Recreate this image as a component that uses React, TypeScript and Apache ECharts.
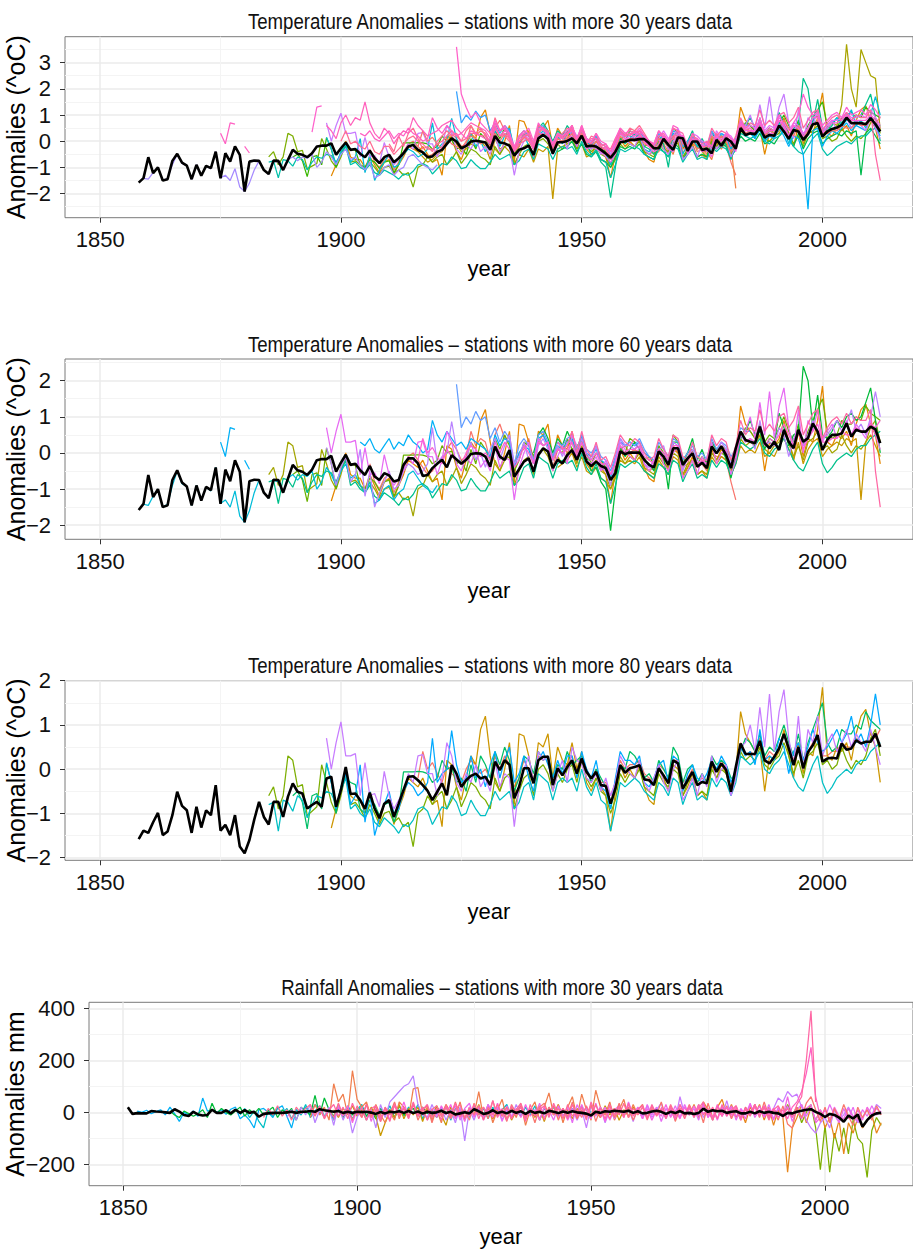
import React, { useEffect, useRef } from "react";
import * as echarts from "echarts";

// ---------------- DATA ----------------
const TITLES = [
  "Temperature Anomalies \u2013 stations with more 30 years data",
  "Temperature Anomalies \u2013 stations with more 60 years data",
  "Temperature Anomalies \u2013 stations with more 80 years data",
  "Rainfall Anomalies \u2013 stations with more 30 years data",
];
const X_TICKS = [1850, 1900, 1950, 2000];
const X_MINOR = [1875, 1925, 1975];
const Y_TICKS_30 = [-2, -1, 0, 1, 2, 3];
const Y_MINOR_30 = [-2.5, -1.5, -0.5, 0.5, 1.5, 2.5, 3.5];
const Y_TICKS_60 = [-2, -1, 0, 1, 2];
const Y_MINOR_60 = [-1.5, -0.5, 0.5, 1.5, 2.5];
const Y_TICKS_80 = [-2, -1, 0, 1, 2];
const Y_MINOR_80 = [-1.5, -0.5, 0.5, 1.5];
const Y_TICKS_RAIN = [-200, 0, 200, 400];
const Y_MINOR_RAIN = [-100, 100, 300];

const MEAN_START = 1858;
const T30_MEAN = [
  -1.58,-1.41,-0.61,-1.22,-1.0,-1.5,-1.45,-0.75,-0.48,-0.82,
  -0.93,-1.45,-0.9,-1.32,-0.94,-1.03,-0.4,-1.41,-0.46,-0.78,
  -0.2,-0.52,-1.92,-0.78,-0.74,-0.75,-1.1,-1.25,-0.74,-0.75,
  -1.1,-0.71,-0.33,-0.48,-0.52,-0.61,-0.46,-0.2,-0.17,-0.17,
  -0.08,-0.52,-0.27,-0.05,-0.33,-0.3,-0.48,-0.61,-0.36,-0.65,
  -0.84,-0.61,-0.52,-0.8,-0.65,-0.46,-0.2,-0.14,-0.33,-0.43,
  -0.61,-0.58,-0.4,-0.33,-0.1,0.11,-0.01,-0.27,-0.18,-0.01,
  0.02,-0.01,-0.05,-0.33,0.2,-0.05,-0.08,-0.17,-0.55,-0.33,
  -0.27,-0.17,-0.52,0.11,0.24,0.09,-0.47,-0.04,-0.04,0.01,
  0.11,-0.08,0.21,-0.2,-0.17,-0.2,-0.33,-0.47,-0.63,-0.4,
  -0.04,-0.01,0.05,0.05,0.08,0.08,-0.08,-0.27,-0.27,0.09,
  -0.14,-0.33,0.14,0.11,-0.37,-0.01,-0.01,-0.33,-0.29,-0.46,
  0.05,-0.17,0.11,-0.01,-0.29,0.5,0.24,0.3,0.27,0.52,
  0.14,0.24,0.21,0.6,0.37,0.09,0.43,0.37,0.05,0.27,
  0.65,0.69,0.18,0.37,0.47,0.52,0.62,0.9,0.69,0.69,
  0.69,0.65,0.88,0.65,0.37,
];
const T60_MEAN = [
  -1.58,-1.41,-0.61,-1.22,-1.0,-1.5,-1.45,-0.75,-0.48,-0.82,
  -0.93,-1.45,-0.9,-1.32,-0.94,-1.03,-0.4,-1.41,-0.46,-0.78,
  -0.2,-0.52,-1.92,-0.78,-0.74,-0.75,-1.1,-1.25,-0.74,-0.75,
  -1.1,-0.71,-0.33,-0.48,-0.52,-0.61,-0.46,-0.2,-0.17,-0.17,
  -0.08,-0.52,-0.27,-0.05,-0.33,-0.3,-0.48,-0.61,-0.36,-0.65,
  -0.75,-0.56,-0.62,-0.79,-0.75,-0.33,-0.15,-0.15,-0.29,-0.64,
  -0.61,-0.42,-0.3,-0.19,-0.4,-0.06,-0.18,-0.3,-0.19,-0.03,
  -0.01,-0.02,-0.1,-0.38,0.18,-0.1,-0.19,0.08,-0.66,-0.45,
  -0.24,-0.15,-0.52,-0.06,0.13,0.04,-0.42,-0.19,-0.29,-0.06,
  0.08,-0.19,0.13,-0.24,-0.36,-0.24,-0.36,-0.42,-0.75,-0.56,
  0.04,-0.03,0.01,0.01,0.01,-0.19,-0.33,-0.4,0.04,-0.1,
  -0.33,0.13,0.13,-0.33,-0.15,-0.01,-0.38,-0.27,-0.42,0.18,
  -0.01,0.18,-0.06,-0.42,0.13,0.59,0.36,0.31,0.27,0.73,
  0.27,0.13,0.31,0.08,0.64,0.31,0.13,0.64,0.31,0.41,
  0.82,0.59,0.08,0.36,0.5,0.5,0.54,0.82,0.45,0.64,
  0.59,0.59,0.73,0.65,0.27,
];
const T80_MEAN = [
  -1.58,-1.39,-1.44,-1.2,-0.99,-1.49,-1.41,-1.04,-0.51,-0.83,
  -0.93,-1.44,-0.85,-1.32,-0.93,-1.04,-0.36,-1.39,-1.26,-1.49,
  -1.04,-1.75,-1.9,-1.6,-1.14,-0.74,-1.08,-1.25,-0.74,-0.74,
  -1.08,-0.62,-0.32,-0.51,-0.55,-0.89,-0.81,-0.74,-0.85,-0.21,
  -0.17,-0.85,-0.47,0.05,-0.56,-0.55,-0.7,-0.9,-0.53,-0.89,
  -1.11,-0.78,-0.7,-1.08,-0.78,-0.47,-0.17,-0.16,-0.25,-0.36,
  -0.49,-0.7,-0.51,-0.32,-0.59,0.09,-0.1,-0.4,-0.25,-0.15,
  -0.1,-0.21,-0.17,-0.36,0.17,-0.02,0.2,0.1,-0.66,-0.4,
  0.02,0.02,-0.32,0.2,0.28,0.28,-0.36,0.02,-0.14,0.05,
  0.2,-0.1,0.24,-0.06,-0.21,-0.06,-0.36,-0.38,-0.78,-0.44,
  0.09,-0.08,0.02,0.05,0.09,-0.23,-0.25,-0.36,0.02,-0.14,
  -0.32,0.2,0.13,-0.44,-0.25,-0.06,-0.36,-0.29,-0.32,0.17,
  -0.06,0.13,-0.02,-0.51,0.05,0.58,0.35,0.34,0.35,0.64,
  0.2,0.13,0.28,0.47,0.8,0.47,0.09,0.5,0.02,0.39,
  0.54,0.77,0.17,0.24,0.26,0.24,0.58,0.44,0.47,0.65,
  0.58,0.62,0.62,0.8,0.5,
];

const RAIN_MEAN_START = 1851;
const RAIN_MEAN = [
  20,-6,-3,-4,-4,5,3,2,0,-2,
  12,3,-10,-14,2,-8,-12,-10,10,-2,
  -2,8,-4,10,-2,8,-2,2,-17,-6,
  -4,-2,-2,-2,0,2,-2,2,2,5,
  2,12,8,5,2,5,-2,2,-2,2,
  1,2,-1,-6,1,-4,2,0,4,-2,
  5,-3,3,-5,2,-2,0,6,-3,2,
  -8,-4,0,-4,12,4,-6,-2,8,-3,
  2,-4,6,-2,4,-6,5,-2,2,-4,
  6,2,-3,3,-2,4,0,-2,-5,-12,
  2,-2,4,2,6,4,2,6,-2,4,
  -4,-2,3,6,2,-6,2,-3,5,-4,
  -2,-6,-2,14,2,8,4,6,-2,2,
  4,-4,-4,2,-4,4,-2,2,-2,-4,
  -14,-2,-4,2,6,10,12,2,-6,-18,
  -6,-10,-20,-36,-12,-24,-8,-55,-30,-12,
  -4,-2,
];

// ---- temperature stations (start year, yearly anomaly) ----
const TA_START = 1885;
const TA = [
  -0.8,-0.75,-1.4,-0.7,-0.75,-0.95,-0.6,-0.7,-1.1,-0.8,
  -0.6,-0.65,-0.5,-0.55,-0.8,-0.5,-0.2,-0.9,-0.8,-1.0,
  -1.1,-0.9,-1.2,-1.3,-1.1,-1.2,-1.3,-1.45,-1.25,-1.3,
  -1.15,-0.9,-0.85,-0.95,-1.25,-1.05,-0.85,-0.9,-0.6,-0.75,
  -1.05,-1.0,-0.7,-0.9,-1.05,-1.05,-0.8,-0.5,-0.7,-0.6,
  -0.5,-0.9,-0.75,-0.4,-0.3,-0.7,-0.1,-0.2,-0.3,-0.7,
  -0.3,-0.2,-0.3,-0.2,-0.5,0.0,-0.4,-0.6,-0.3,-0.7,
  -0.8,-1.4,-0.9,-0.3,-0.4,-0.3,-0.2,-0.3,-0.5,-0.6,
  -0.7,-0.3,-0.4,-0.6,-0.2,-0.3,-0.8,-0.5,-0.3,-0.7,
  -0.6,-0.7,-0.2,-0.4,-0.2,-0.3,-0.6,-0.3,0.3,0.2,
  0.1,0.2,0.4,0.0,-0.1,0.1,0.2,0.4,0.1,-0.2,
  -0.4,-0.5,-0.2,0.1,0.3,-0.3,-0.55,-0.4,-0.2,-0.1,
  0.0,-0.1,0.1,0.2,0.2,0.4,0.5,0.6,
];
const TB_START = 1885;
const TB = [
  -0.6,-0.4,-0.9,-0.6,0.3,0.2,-0.4,-0.35,-1.05,-0.95,
  -0.85,0.1,-0.3,-0.75,-1.0,-0.6,-0.1,-0.8,-0.75,-0.9,
  -1.1,-0.8,-1.0,-1.25,-1.0,-0.95,-1.2,-1.1,-1.3,-1.2,
  -1.75,-1.0,-0.9,-0.6,-0.8,-0.6,-0.5,-0.9,-0.7,-0.4,
  -0.85,-0.6,-0.3,-0.4,-0.6,-0.7,-0.9,-0.2,-0.5,-0.2,
  -0.1,-0.9,-0.5,-0.2,-0.1,-0.6,0.0,0.1,-0.1,-0.5,
  -0.1,-0.3,0.0,0.1,-0.3,0.2,-0.2,-0.4,-0.2,-0.5,
  -0.6,-1.0,-0.7,-0.1,-0.3,-0.1,-0.2,0.0,-0.4,-0.5,
  -0.6,-0.1,-0.3,-0.4,0.0,-0.1,-0.6,-0.3,-0.2,-0.6,
  -0.5,-0.6,0.0,-0.2,0.0,-0.1,-0.5,-0.2,0.4,0.2,
  0.3,0.2,0.5,0.1,0.0,0.2,0.3,0.6,0.3,-0.1,
  0.2,-0.2,0.3,0.4,0.6,0.1,0.2,0.0,0.1,0.5,
  0.2,0.0,0.2,0.1,0.3,0.7,0.9,0.3,
];
const TC_START = 1890;
const TC = [
  -0.6,-0.5,-0.75,-1.35,-0.6,-0.55,-0.9,0.13,-0.3,-1.0,
  -0.4,-0.2,-0.3,-0.35,-0.9,-1.0,-0.7,-0.8,-1.05,-0.8,
  -0.75,-1.2,-0.9,-0.06,-0.06,-0.06,-0.05,-0.06,-0.1,-0.3,
  -0.2,0.2,0.0,0.05,-0.3,-0.2,-0.5,0.1,-0.3,0.3,
  0.1,-0.2,0.4,0.1,0.5,0.2,-0.5,-0.2,0.3,0.2,
  -0.1,0.4,0.2,0.3,-0.2,0.1,0.0,0.4,0.1,0.2,
  0.3,0.0,-0.3,0.0,-0.2,-0.4,-0.9,-0.4,0.1,0.0,
  0.4,0.3,0.1,-0.2,-0.1,-0.3,0.2,0.0,-0.2,0.5,
  0.3,-0.3,0.0,0.1,-0.3,-0.1,-0.3,0.3,0.1,0.2,
  0.1,-0.2,-0.2,0.4,0.7,0.6,0.4,0.8,0.3,0.5,
  0.4,0.7,1.0,0.6,0.3,0.8,0.2,0.6,0.9,1.2,
  1.5,0.6,0.4,0.5,0.9,0.8,0.8,1.0,0.9,1.3,
  1.1,1.0,0.9,
];
const TD_START = 1897;
const TD = [
  0.7,0.0,0.6,1.07,0.3,0.3,0.35,-0.6,0.15,-0.6,
  -0.55,-0.85,-0.05,-0.6,-0.9,-0.7,-0.5,-0.1,-0.3,0.3,
  0.33,-0.1,-0.1,-0.6,-0.2,0.6,0.3,-0.3,-0.5,-0.1,
  -0.3,0.1,-0.4,-0.2,-0.5,0.2,-0.4,-0.1,-0.2,-1.3,
  -0.4,0.0,0.3,-0.3,0.4,0.2,0.3,-0.5,-0.1,0.2,
  -0.3,0.5,0.2,0.1,-0.2,-0.3,-0.1,-0.5,-0.2,-0.6,
  -0.3,0.3,0.1,-0.1,-0.2,0.2,-0.3,-0.5,-0.2,0.1,
  -0.3,-0.5,0.0,0.2,-0.7,-0.5,-0.2,-0.6,-0.1,-0.4,
  0.3,-0.3,0.0,0.1,-0.6,-0.2,0.5,0.6,1.0,0.4,
  1.4,0.5,1.7,0.4,1.3,1.8,0.7,0.1,1.2,0.0,
  0.9,0.6,1.2,0.3,0.6,0.8,0.4,0.6,0.9,0.5,
  0.8,0.6,0.4,0.9,0.5,0.1,
];
const TE_START = 1897;
const TE = [
  0.15,-0.3,-0.9,-0.4,-0.1,-0.8,-0.6,0.1,-1.2,-0.5,
  -1.5,-1.1,-0.8,-0.5,-1.0,-0.9,-0.5,-0.3,-0.4,-0.6,
  -0.5,-0.3,0.7,-0.3,-0.1,0.0,0.87,0.1,-0.3,-0.2,
  0.3,-0.2,0.0,-0.4,0.1,0.4,-0.2,0.2,0.5,-0.3,
  -0.1,0.3,-0.2,-0.5,0.2,0.4,0.1,-0.2,0.2,-0.1,
  0.3,0.3,-0.2,0.4,0.0,-0.2,0.2,-0.4,-0.5,-0.9,
  -0.2,0.4,0.2,0.2,0.1,0.3,-0.3,-0.4,-0.2,0.1,
  0.2,-0.3,0.3,0.2,-0.5,-0.1,0.1,-0.2,-0.3,-0.1,
  0.2,0.0,0.3,0.1,-0.3,0.0,0.5,0.3,0.4,0.1,
  0.9,0.2,0.3,0.2,0.7,0.5,-0.1,0.4,0.6,0.2,
  0.5,0.9,0.6,0.4,0.5,0.7,0.9,0.6,0.8,1.2,
  0.6,0.8,0.5,1.0,1.7,1.0,
];
const TF_START = 1898;
const TF = [
  -1.33,-0.9,-0.5,0.0,-0.6,-0.7,-0.7,-1.0,-0.6,-0.9,
  -1.2,-0.8,-0.7,-1.25,-0.9,-0.6,-0.2,-0.3,-0.4,-0.2,
  -0.5,-0.8,-0.7,-1.3,0.2,0.1,-0.4,-0.7,-0.2,0.3,
  0.1,0.9,1.2,0.3,-0.3,-0.5,0.0,0.6,-0.8,0.8,
  0.75,0.3,-0.3,0.6,0.5,0.8,-0.2,0.5,0.2,0.1,
  0.6,0.0,0.4,-0.3,-0.5,-0.2,-0.4,-0.6,-1.4,-0.5,
  0.1,-0.2,0.0,-0.2,0.1,-0.4,-0.7,-0.8,0.0,-0.2,
  -0.5,0.1,0.0,-0.6,-0.4,-0.1,-0.6,-0.5,-0.7,0.1,
  -0.2,0.1,-0.1,-0.4,-0.1,1.3,0.8,0.6,0.4,0.5,
  -0.5,0.3,0.2,0.4,0.9,0.3,-0.2,0.6,-0.1,0.4,
  0.3,0.9,1.85,0.3,0.2,0.5,0.4,0.6,0.2,0.8,
  1.2,1.35,0.8,0.5,-0.3,
];
const TG_START = 1916;
const TG = [
  -0.2,0.4,0.0,0.15,-0.1,-0.3,0.1,-0.1,-0.2,-0.3,
  0.0,0.2,0.1,-0.1,0.0,-0.2,0.3,0.0,0.3,0.1,
  -0.4,-0.2,0.2,0.0,-0.3,0.3,0.2,0.3,-0.2,0.1,
  0.0,0.1,0.3,-0.1,0.3,-0.1,-0.2,0.0,-0.3,-0.3,
  -0.6,-0.3,0.2,0.0,0.1,0.1,0.2,-0.1,-0.2,-0.3,
  0.1,0.0,-0.2,0.2,0.2,-0.3,-0.2,0.0,-0.3,-0.2,
  -0.3,0.2,0.0,0.2,0.0,-0.4,-0.1,0.6,0.3,0.4,
  0.3,0.7,0.2,0.4,0.3,0.5,0.8,0.5,0.2,0.6,
  0.1,0.4,0.6,0.8,0.3,0.3,0.4,0.4,0.6,0.5,
  0.5,0.7,0.6,0.6,0.8,0.7,0.9,
];
const TH_START = 1924;
const TH = [
  1.9,0.7,1.0,0.8,1.15,0.9,1.0,0.4,0.7,0.3,
  0.6,0.4,-0.3,0.2,0.4,0.2,-0.2,0.5,0.6,0.3,
  -0.1,0.3,0.2,0.4,0.5,0.1,0.5,0.1,0.0,0.2,
  -0.1,-0.2,-0.5,-0.1,0.4,0.2,0.3,0.2,0.4,0.1,
  -0.1,-0.2,0.3,0.1,-0.1,0.4,0.3,-0.2,0.0,0.2,
  -0.1,0.0,-0.2,0.4,0.1,0.3,0.2,-0.1,0.1,0.7,0.6,0.6,
];
const TI_START = 1859;
const TI = [
  -1.42,-1.45,-1.2,-1.0,-1.5,-1.42,-0.9,-0.5,-0.85,-0.93,
  -1.45,-0.9,-1.3,-0.95,-1.05,-0.4,-1.4,-1.3,-1.5,-1.05,
  -1.75,-1.92,-1.6,-1.1,-0.75,-1.1,-1.25,-0.75,-0.8,-1.1,
  -0.7,-0.6,-0.75,-0.6,-0.65,-0.5,-1.0,-0.8,-0.4,-0.6,
  -0.9,-0.5,-0.3,-0.7,-0.6,-0.9,-1.1,-0.8,-1.4,-1.3,
  -1.0,-0.9,-1.3,-1.1,-1.0,-0.6,-0.5,-0.7,-0.9,-1.0,-1.1,-0.9,
];
const TJ_EARLY_START = 1875;
const TJ_EARLY = [0.3, -0.1, 0.7, 0.65, null, -0.2, -0.45];
const TJ_START = 1904;
const TJ = [
  0.3,0.2,0.4,0.1,0.0,0.2,0.4,0.1,0.3,0.2,
  0.5,0.3,0.2,0.0,0.1,0.9,0.5,0.3,0.6,0.4,
  0.2,0.3,0.1,0.4,0.3,0.2,0.1,-0.1,0.5,0.2,
  0.4,0.3,-0.4,0.0,0.2,0.1,-0.3,0.4,0.5,0.2,
  -0.2,0.2,0.1,0.3,0.4,0.0,0.5,0.0,-0.1,0.1,
  -0.2,-0.3,-0.7,-0.2,0.3,0.2,0.3,0.2,0.3,0.0,-0.1,-0.2,
];
const TK_START = 1906;
const TK = [
  -0.3,-0.8,-1.0,-0.7,-0.6,-1.1,-0.8,-0.4,-0.1,0.0,
  -0.2,-0.4,-0.6,-0.5,-0.3,-0.2,0.1,0.3,0.1,-0.2,
  -0.1,0.6,0.2,0.4,0.3,-0.2,0.5,0.8,0.4,0.3,
  -0.3,0.0,0.1,0.4,-0.2,0.3,0.5,0.2,-0.4,0.1,
  0.2,0.0,0.3,-0.1,0.4,-0.2,-0.1,0.2,-0.2,-0.5,
  -0.6,-0.2,0.1,0.2,0.0,0.1,0.0,-0.3,-0.5,-0.4,
  0.0,-0.1,-0.4,0.2,0.0,-0.4,-0.3,0.1,-0.4,-0.3,
  -0.5,0.0,-0.1,-0.1,-0.2,-0.8,-1.3,
];
const TL_START = 1945;
const TL = [
  -0.4,-0.3,-0.2,0.0,-0.4,-0.1,-0.5,-0.6,-0.4,-0.7,
  -0.8,-1.0,-0.6,-0.2,-0.3,-0.2,-0.3,-0.1,-0.5,-0.6,
  -0.7,-0.2,-0.4,-0.6,-0.1,-0.2,-0.7,-0.4,-0.2,-0.6,
  -0.5,-0.6,-0.1,-0.3,-0.1,-0.2,-0.6,-0.3,0.2,0.0,
  0.1,0.0,0.3,-0.1,0.0,-0.1,0.2,0.4,0.1,-0.2,
  0.3,-0.3,0.1,0.3,0.4,-0.1,0.1,0.2,0.3,0.2,
  0.4,0.3,0.4,-1.3,0.3,0.5,0.2,-0.1,
];
const TM_START = 1945;
const TM = [
  0.3,0.1,0.2,0.6,0.0,0.6,0.1,-0.1,0.3,-0.2,
  -0.1,-0.4,0.0,0.5,0.3,0.2,0.4,0.3,0.0,-0.2,
  -0.1,0.4,0.1,-0.1,0.5,0.4,-0.1,-0.2,0.3,-0.1,
  -0.2,-0.2,0.5,0.2,0.4,0.3,-0.2,0.2,0.9,0.5,
  0.7,0.6,1.2,0.6,0.8,0.6,1.0,1.1,0.7,0.9,
  1.3,0.5,0.8,1.1,1.2,0.4,0.7,0.9,1.0,0.8,
  1.1,0.8,1.0,0.9,0.9,1.2,-0.5,-1.5,
];
const TN_START = 1940;
const TN = [
  0.0,0.5,0.7,0.4,0.0,0.4,0.2,0.6,0.3,0.1,
  0.5,-0.1,-0.5,-0.4,-0.8,-1.0,-2.15,-1.0,0.2,-0.1,
  0.1,0.3,0.1,-0.2,-0.3,-0.5,0.1,-0.1,-1.0,0.3,
  0.3,-0.2,0.0,0.4,-0.2,0.1,-0.3,0.3,0.1,0.2,
  -0.2,-0.7,-0.1,0.4,0.6,0.9,0.5,0.6,0.1,0.4,
  0.3,1.1,0.7,0.2,0.5,0.6,2.4,2.0,0.7,1.6,
  0.5,0.4,0.6,0.9,0.7,1.0,1.1,0.9,1.0,1.4,
  1.8,0.9,0.0,
];
const TO_START = 1924;
const TO = [
  3.6,1.8,1.3,0.9,1.1,0.7,0.5,0.3,0.8,0.4,
  0.6,0.3,-0.2,0.2,0.3,0.5,0.0,0.7,0.4,0.3,
  -0.1,0.3,0.2,0.4,0.6,0.1,0.6,0.1,0.0,0.3,
  0.0,-0.1,-0.4,0.1,0.5,0.3,0.4,0.3,0.5,0.2,
  0.0,-0.1,0.4,0.2,0.0,0.6,0.5,
];
const TP_START = 1975;
const TP = [
  -0.4,-0.6,0.2,-0.2,0.1,0.2,-0.3,-0.1,0.8,0.4,
  0.5,0.3,0.6,0.2,0.5,0.3,0.7,0.5,0.1,0.4,
  0.5,0.0,0.3,0.8,1.0,0.2,0.5,0.7,0.6,1.4,
  3.7,2.0,1.3,3.5,3.0,2.5,2.4,0.4,
];
const TQ_START = 1980;
const TQ = [
  0.1,-0.3,-0.2,0.6,0.2,0.3,0.1,0.5,0.0,0.2,
  0.1,0.5,0.2,-0.2,0.2,0.1,-0.5,-2.6,0.4,0.5,
  -0.2,0.2,0.4,0.3,0.5,0.7,0.4,0.6,0.5,0.4,
  1.0,0.5,0.2,
];
const TR_START = 1915;
const TR = [
  -0.2,-0.4,-0.6,-0.8,-0.7,-0.5,-0.4,0.0,0.2,-0.1,
  -0.4,-0.3,-0.1,-0.2,0.0,-0.2,-0.7,0.1,-0.3,-0.2,
  -0.4,-0.9,-0.5,-0.6,-0.3,-0.8,-0.3,-0.4,-0.2,-2.2,
  -0.3,-0.2,-0.1,0.0,-0.3,-0.1,-0.6,-0.5,-0.4,-0.7,-0.8,
];
const TS2_START = 1894;
const TS2 = [0.35, 1.3, 1.35];
const TS_START = 1897;
const TS = [
  0.6,0.4,0.1,0.7,1.0,0.6,0.9,0.8,1.5,0.7,
  0.3,0.1,0.5,0.3,-0.1,0.2,0.4,0.3,0.9,0.6,
  0.4,0.2,0.3,0.4,0.6,0.7,0.8,0.5,0.3,0.5,
  0.7,0.6,0.5,0.4,0.1,0.7,0.4,0.5,0.2,-0.3,
  0.2,0.4,0.3,-0.1,
];
const TT_START = 1910;
const TT = [
  -0.1,-0.4,0.2,-0.2,0.3,0.5,0.1,-0.3,-0.2,-0.4,
  0.0,0.2,0.4,0.2,0.3,0.0,0.4,0.6,0.3,0.5,
  0.2,0.0,0.9,0.4,0.5,0.1,-0.2,0.1,0.3,0.2,
  -0.1,0.6,0.5,0.4,-0.4,0.2,0.3,0.5,0.4,-0.1,
  0.5,-0.1,0.2,0.1,-0.3,-0.2,-0.3,0.1,0.4,0.2,
  0.5,0.4,0.6,0.3,0.0,-0.2,
];
const TU_START = 1955;
const TU = [
  -0.3,-0.5,-0.1,0.3,0.2,0.1,0.2,0.4,0.2,0.0,
  -0.1,0.1,0.4,0.1,0.2,0.5,0.0,-0.2,0.3,0.2,
  0.0,-0.1,-0.2,0.4,0.1,0.3,0.2,-0.1,0.8,0.5,
  0.6,0.5,0.8,0.4,0.6,0.5,0.9,0.7,0.4,0.7,
  0.6,0.3,0.5,0.9,1.0,0.5,0.6,0.8,0.8,0.9,
  1.1,0.9,0.9,1.0,0.9,1.2,0.9,0.6,
];
const TV_START = 1940;
const TV = [
  -0.6,0.2,0.3,0.0,-0.5,-0.1,0.0,0.1,0.2,-0.2,
  0.3,-0.3,-0.2,-0.3,-0.4,-0.6,-0.8,-0.5,0.0,0.1,
  0.1,0.0,0.2,0.1,-0.2,-0.4,-0.3,0.2,-0.3,-0.4,
  0.2,0.2,-0.5,0.0,0.1,-0.4,-0.3,-0.6,0.1,-0.2,
  0.2,0.0,-0.4,0.6,0.3,0.4,0.4,0.7,0.2,0.3,
  0.3,0.8,0.5,0.1,0.6,0.5,
];
const TW_START = 1980;
const TW = [
  0.4,0.1,0.0,0.7,0.5,0.5,0.3,0.9,0.3,0.5,
  0.4,1.0,0.6,0.2,0.7,1.0,1.8,1.3,1.0,1.1,
  0.6,0.8,1.0,1.1,0.9,1.3,1.0,1.1,1.2,1.0,
  1.4,1.2,0.9,
];
const TX_START = 1950;
const TX = [
  0.5,0.0,-0.1,0.2,-0.3,-0.4,-0.7,-0.2,0.3,0.1,
  0.1,0.0,0.3,0.0,-0.2,-0.5,-0.4,0.1,-0.2,-0.5,
  0.2,0.0,-0.5,-0.1,-0.2,-0.4,-0.4,-0.7,0.0,-0.3,
  0.0,-0.2,-1.8,
];
const TY_START = 1930;
const TY = [
  0.3,-0.1,0.6,0.2,0.3,0.1,-0.3,0.0,0.2,0.3,
  -0.2,0.5,0.5,0.3,-0.1,0.3,0.2,0.3,0.5,0.0,
  0.4,0.0,0.1,0.1,-0.1,-0.2,-0.4,0.0,0.4,0.2,
  0.3,0.3,0.4,0.2,0.0,-0.1,0.2,0.3,0.0,0.1,
  0.4,0.3,-0.2,0.2,0.1,-0.1,0.0,-0.2,0.3,0.0,
  0.3,0.1,-0.1,0.7,0.4,0.5,
];
const TZ_START = 1960;
const TZ = [
  0.0,0.1,0.2,0.0,-0.2,-0.3,-0.1,0.2,-0.1,-0.2,
  0.3,0.2,-0.3,0.1,0.0,-0.2,-0.1,-0.3,0.2,0.0,
  0.3,0.1,-0.1,0.7,0.4,0.4,0.3,0.7,0.3,0.4,
  0.4,0.8,0.6,0.2,0.6,0.5,0.2,0.5,0.9,0.9,
  0.3,0.5,0.7,0.7,0.8,1.0,0.8,0.8,0.8,0.8,
  1.0,0.8,0.5,
];
const TZ2_START = 1900;
const TZ2 = [
  0.0,0.4,-0.1,0.0,-0.2,-0.3,0.0,-0.4,-0.5,-0.2,
  -0.2,-0.5,-0.3,-0.1,0.1,0.2,0.0,-0.1,-0.3,-0.3,
  -0.1,0.0,0.2,0.4,0.2,0.0,0.1,0.3,0.3,0.2,
  0.2,-0.1,0.5,0.2,0.2,0.0,-0.4,-0.1,0.0,0.1,
  -0.3,0.4,0.5,0.3,-0.3,0.2,0.2,0.3,0.4,0.1,
  0.5,
];

// ---- rainfall stations (mm) ----
const RA_START = 1853;
const RA = [
  5,0,8,-5,3,10,-10,20,-5,-35,
  0,-10,5,-15,55,5,10,0,10,-8,
  12,20,-25,-10,-30,-60,10,15,0,-20,
  15,25,-15,-60,10,-10,20,-5,30,10,
  -15,5,-20,15,-10,25,-5,10,
];
const RB_START = 1860;
const RB = [
  5,-10,-20,5,-5,-15,-5,10,-20,35,
  -5,15,0,-10,5,20,-15,10,-5,15,
  -10,5,20,-20,10,-5,15,-30,20,5,
  -10,65,-10,55,10,-15,30,-20,15,-10,
  5,20,-15,10,-25,15,-5,10,-20,25,
  -10,5,15,-15,20,-5,10,-20,15,0,-10,
];
const RC_START = 1890;
const RC = [
  -20,30,-10,20,-30,110,40,70,-10,160,
  50,20,40,-20,30,-10,-40,0,-30,40,
  20,-20,90,95,-10,20,-30,10,-40,30,
  0,-20,40,-30,20,-10,80,-20,30,-40,
  10,50,-30,20,-20,30,-50,10,40,-30,
  20,75,-10,30,-40,20,60,-20,70,10,
  -30,85,20,-10,40,-30,10,50,-20,30,-10,
];
const RD_START = 1885;
const RD = [
  -20,10,-30,20,-10,30,-40,10,-20,20,
  -50,30,-30,10,-80,-20,20,-30,10,-60,
  30,-20,40,60,80,100,110,140,30,-10,
  -20,30,-10,20,-30,10,-40,20,-110,10,
  -30,20,-20,30,-10,20,-30,10,-20,30,-10,
];
const RE_START = 1890;
const RE = [
  15,-10,25,-20,10,30,-15,20,-25,35,
  -10,20,-30,15,25,-20,10,-35,30,-10,
  20,-25,40,-15,10,30,-20,15,-30,25,
  -10,35,-20,10,-15,30,-25,20,-10,45,
  -20,15,-30,25,-10,20,-35,30,-15,10,
  25,-20,35,-10,15,-25,30,-15,20,-30,
  40,-10,15,-25,30,-10,20,-20,35,-15,
  10,25,-20,30,-10,15,-25,20,-15,30,
  -10,25,-20,15,40,-10,20,-25,30,-15,
  10,25,-20,15,-10,30,-15,20,-25,10,
  25,-10,15,-20,30,60,200,390,40,
];
const RF_START = 1990;
const RF = [
  10,-20,30,-10,20,-40,0,30,-60,-220,
  -50,-230,-80,-150,-60,-160,-30,-100,-120,-250,
  -70,-20,-50,
];
const RG_START = 1970;
const RG = [
  20,-10,30,-20,40,10,-30,20,50,-10,
  30,-20,10,-40,20,-10,30,-30,20,-50,
  10,-20,-230,-60,-20,30,-40,20,-30,10,
  -60,-20,-100,-30,-160,-40,-80,-20,-60,-30,
  -10,-80,-40,
];
const RH_START = 1900;
const RH = [
  10,-20,30,-10,25,-35,15,-5,40,-25,
  20,-15,35,-30,10,25,-40,15,-10,30,
  -20,40,-15,5,-30,35,-10,20,-25,45,
  -15,10,-35,30,-5,25,-20,15,-40,20,
  35,-10,25,-30,15,-15,40,-25,10,-20,
  30,-35,15,-10,25,-20,35,-15,20,-30,
  10,30,-25,15,-10,40,-20,25,-35,15,
  -15,30,-10,20,-40,35,-20,10,-15,25,
  -25,15,-30,20,-10,30,-20,40,-15,10,
  -30,25,-45,-60,20,-20,35,60,10,-35,
  20,-40,15,-25,30,-15,-50,20,-20,10,
  -30,25,-10,
];
const RI_START = 1920;
const RI = [
  -10,25,-30,15,35,-20,10,-25,30,-5,
  20,-35,25,-15,10,30,-25,15,-10,35,
  -20,10,-30,25,-15,20,-40,30,-10,15,
  -25,35,-15,20,-30,10,25,-20,40,-10,
  15,-25,30,-10,20,-35,15,-15,25,-20,
  30,-10,15,-30,35,-20,10,-25,20,-15,
  25,-30,15,-10,35,-20,10,-15,30,-25,
  15,-20,25,-35,10,30,-15,20,-30,10,
  -20,30,-10,-40,15,-25,20,-35,10,-15,
  25,-10,5,
];
const RJ_START = 1945;
const RJ = [
  -20,15,-30,10,-60,25,-15,20,-40,10,
  -25,30,-10,15,-35,20,-15,25,-20,10,
  35,-25,15,-30,60,-10,20,-15,30,-20,
  10,-30,25,-15,45,-20,10,-25,20,-10,
  30,-15,25,-20,15,55,40,80,60,70,
  20,-30,-60,-80,-40,-20,-60,10,-30,-10,
  20,-15,-40,-20,10,-10,30,15,
];
const RK_START = 1875;
const RK = [
  -10,15,-20,5,-35,-60,10,-15,20,-5,
  15,-25,10,-10,30,-20,5,25,-15,10,
  -30,20,-10,15,-25,10,30,-15,5,-20,
  15,-10,25,-20,10,-15,20,-5,30,-25,
  10,-15,20,-10,25,-30,15,-5,10,-20,
  25,-10,15,-25,20,-15,10,30,-20,5,
  -15,20,-10,25,-30,15,-5,20,-15,10,
  -20,15,-10,25,-15,5,
];
const RL_START = 1895;
const RL = [
  10,-20,15,-10,25,-15,10,-30,20,-15,
  -90,-40,10,-20,30,-25,15,-10,20,-35,
  15,-20,25,-10,-50,20,-15,10,-25,15,
  -10,30,-20,15,-25,10,-15,20,-30,5,
  25,-15,10,-20,15,-35,20,-10,30,-15,
  10,-25,15,-10,20,-15,5,-20,25,-10,
  15,-30,10,-15,20,-5,
];
const RM_START = 1965;
const RM = [
  20,-15,10,-25,30,-10,15,-20,25,-5,
  10,-20,30,-15,20,-10,25,-30,15,-10,
  20,-15,25,-10,15,-20,10,-25,20,40,
  80,150,250,60,-20,10,
];
const RN_START = 1880;
const RN = [
  -20,15,-10,25,-15,10,-30,20,-5,15,
  30,-15,20,-25,10,-20,35,-10,15,-30,
  25,-15,30,-20,10,-35,20,-10,25,-15,
  15,-20,30,-10,20,-30,10,25,-15,20,
  -25,10,30,-20,15,-10,25,-30,20,-10,
  30,-15,20,-25,10,35,-20,15,-10,25,
  -30,20,-10,15,-25,30,-15,10,-20,25,
  -15,30,-20,10,-25,15,-10,35,-20,15,
  -10,20,-30,25,-15,10,-20,30,-10,15,
  -25,20,-15,30,-10,15,-30,25,-10,20,
  -20,15,-25,10,-15,30,-10,20,-30,15,-10,
];
const RO_START = 1895;
const RO = [
  -30,20,-15,25,-40,10,-20,30,-35,15,
  -25,20,-30,35,-10,40,-20,30,-15,20,
  -30,15,-20,25,-10,30,-25,10,-35,20,
  -15,25,-30,10,-20,35,-10,20,-25,15,
  -20,30,-15,10,-30,20,-10,25,-20,15,
  -30,10,-20,30,-15,25,-10,20,-35,15,
  -20,25,-15,30,-10,20,-25,15,-30,10,
  -15,30,-20,10,-25,20,-10,25,-15,30,
  -20,15,-30,25,-10,20,-15,10,-25,30,
  -10,25,-20,15,-30,20,-15,60,-20,10,
  -25,15,30,-40,-20,10,-30,20,-15,-25,
  15,-20,10,-30,20,-10,15,-5,
];

// ---------------- STYLE ----------------
const FONT = "'Liberation Sans',Arial,Helvetica,sans-serif";
const X_MIN = 1842.7;
const X_MAX = 2018.8;

type Seg = [number, (number | null)[]];

function toPoints(segs: Seg[]) {
  const out: any[] = [];
  segs.forEach(([start, vals], k) => {
    if (k > 0) out.push([start - 0.5, "-"]);
    vals.forEach((v, i) => out.push([start + i, v == null ? "-" : v]));
  });
  return out;
}

const S: Record<string, Seg[]> = {
  A: [[TA_START, TA]], B: [[TB_START, TB]], C: [[TC_START, TC]], D: [[TD_START, TD]],
  E: [[TE_START, TE]], F: [[TF_START, TF]], G: [[TG_START, TG]], H: [[TH_START, TH]],
  I: [[TI_START, TI]], J: [[TJ_EARLY_START, TJ_EARLY], [TJ_START, TJ]], K: [[TK_START, TK]],
  L: [[TL_START, TL]], M: [[TM_START, TM]], N: [[TN_START, TN]], O: [[TO_START, TO]],
  P: [[TP_START, TP]], Q: [[TQ_START, TQ]], R: [[TR_START, TR]], S2: [[TS2_START, TS2]],
  S: [[TS_START, TS]], T: [[TT_START, TT]], U: [[TU_START, TU]], V: [[TV_START, TV]],
  W: [[TW_START, TW]], X: [[TX_START, TX]], Y: [[TY_START, TY]], Z: [[TZ_START, TZ]],
  Z2: [[TZ2_START, TZ2]],
};
const RS: Record<string, Seg[]> = {
  A: [[RA_START, RA]], B: [[RB_START, RB]], C: [[RC_START, RC]], D: [[RD_START, RD]],
  E: [[RE_START, RE]], F: [[RF_START, RF]], G: [[RG_START, RG]], H: [[RH_START, RH]],
  I: [[RI_START, RI]], J: [[RJ_START, RJ]], K: [[RK_START, RK]], L: [[RL_START, RL]],
  M: [[RM_START, RM]], N: [[RN_START, RN]], O: [[RO_START, RO]],
};

// draw order + colour per panel
const P1_LINES: [string, string][] = [
  ["K", "#F8766D"], ["X", "#EE8044"], ["F", "#E38900"], ["R", "#C49A00"], ["P", "#A9A400"],
  ["B", "#7CAE00"], ["C", "#39B600"], ["L", "#00BB4E"], ["N", "#00C08B"], ["A", "#00C1AA"],
  ["E", "#00BCD8"], ["Q", "#00B0F6"], ["H", "#35A2FF"], ["I", "#A58AFF"], ["D", "#C77CFF"],
  ["U", "#E76BF3"], ["V", "#F564E3"], ["G", "#F8766D"], ["Z2", "#FF6C91"], ["T", "#FF6C91"],
  ["J", "#FF61C3"], ["S2", "#FF61CC"], ["S", "#FF62BC"], ["Y", "#FF65AE"], ["M", "#FF67A4"],
  ["Z", "#FB61D7"], ["O", "#FF61C9"], ["W", "#FD61D1"],
];
const P2_LINES: [string, string][] = [
  ["K", "#F8766D"], ["F", "#E58700"], ["L", "#C99800"], ["B", "#A3A500"], ["C", "#6BB100"],
  ["N", "#00BA38"], ["A", "#00C08B"], ["I", "#00BCD8"], ["J", "#00B0F6"], ["H", "#619CFF"],
  ["E", "#B983FF"], ["D", "#E76BF3"], ["G", "#FD61D1"], ["M", "#FF67A4"],
];
const P3_LINES: [string, string][] = [
  ["G", "#F8766D"], ["F", "#CD9600"], ["B", "#7CAE00"], ["C", "#00BE67"],
  ["A", "#00BFC4"], ["E", "#00A9FF"], ["D", "#C77CFF"],
];
const P4_LINES: [string, string][] = [
  ["A", "#00B0F6"], ["K", "#00BFC4"], ["B", "#00BA38"], ["L", "#C99800"], ["F", "#7CAE00"],
  ["G", "#E7861B"], ["C", "#F07E4D"], ["D", "#B983FF"], ["J", "#C77CFF"], ["I", "#E76BF3"],
  ["O", "#F564E3"], ["H", "#F8766D"], ["N", "#FF6C91"], ["M", "#FF61C3"], ["E", "#FF67A4"],
];

const PANELS = [
  { left: 65, top: 36.7, height: 181, yMin: -2.92, yMax: 3.99, ticks: Y_TICKS_30, minor: Y_MINOR_30,
    yName: "Anomalies (^oC)", nameGap: 37, titleX: 490, titleY: 21,
    lines: P1_LINES, src: S, meanStart: MEAN_START, mean: T30_MEAN },
  { left: 65, top: 359, height: 180.3, yMin: -2.39, yMax: 2.6, ticks: Y_TICKS_60, minor: Y_MINOR_60,
    yName: "Anomalies (^oC)", nameGap: 37, titleX: 490, titleY: 344,
    lines: P2_LINES, src: S, meanStart: MEAN_START, mean: T60_MEAN },
  { left: 65, top: 680.7, height: 179.6, yMin: -2.06, yMax: 2.0, ticks: Y_TICKS_80, minor: Y_MINOR_80,
    yName: "Anomalies (^oC)", nameGap: 37, titleX: 490, titleY: 665,
    lines: P3_LINES, src: S, meanStart: MEAN_START, mean: T80_MEAN },
  { left: 89, top: 1002.3, height: 183.4, yMin: -282, yMax: 423, ticks: Y_TICKS_RAIN, minor: Y_MINOR_RAIN,
    yName: "Anomalies mm", nameGap: 62, titleX: 502, titleY: 987,
    lines: P4_LINES, src: RS, meanStart: RAIN_MEAN_START, mean: RAIN_MEAN },
];

const fmt = (v: number) => (v < 0 ? "\u2212" + Math.abs(v) : String(v));

function buildOption() {
  const grid: any[] = [];
  const xAxis: any[] = [];
  const yAxis: any[] = [];
  const series: any[] = [];
  const graphic: any[] = [];

  PANELS.forEach((p, i) => {
    grid.push({
      left: p.left, top: p.top, height: p.height, right: 0,
      containLabel: false, outerBoundsMode: "none",
      show: true, borderColor: "#7a7a7a", borderWidth: 1, backgroundColor: "#ffffff",
    });
    xAxis.push({
      type: "value", gridIndex: i, min: X_MIN, max: X_MAX, position: "bottom",
      axisLine: { show: false, onZero: false }, axisLabel: { show: false },
      axisTick: { show: false, customValues: X_MINOR },
      splitLine: { show: true, lineStyle: { color: "#f4f4f4", width: 1 } },
    });
    xAxis.push({
      type: "value", gridIndex: i, min: X_MIN, max: X_MAX, position: "bottom",
      axisLine: { show: false, onZero: false },
      axisTick: { show: true, length: 5, lineStyle: { color: "#333" }, customValues: X_TICKS },
      axisLabel: { customValues: X_TICKS, fontSize: 22, fontFamily: FONT, color: "#111", margin: 11,
        formatter: (v: number) => String(v) },
      splitLine: { show: true, lineStyle: { color: "#ebebeb", width: 1.5 } },
      name: "year", nameLocation: "middle", nameGap: 40, nameMoveOverlap: false,
      nameTextStyle: { fontSize: 22, fontFamily: FONT, color: "#000" },
    });
    yAxis.push({
      type: "value", gridIndex: i, min: p.yMin, max: p.yMax, position: "left",
      axisLine: { show: false, onZero: false }, axisLabel: { show: false },
      axisTick: { show: false, customValues: p.minor },
      splitLine: { show: true, lineStyle: { color: "#f4f4f4", width: 1 } },
    });
    yAxis.push({
      type: "value", gridIndex: i, min: p.yMin, max: p.yMax, position: "left",
      axisLine: { show: false, onZero: false },
      axisTick: { show: true, length: 5, lineStyle: { color: "#333" }, customValues: p.ticks },
      axisLabel: { customValues: p.ticks, fontSize: 22, fontFamily: FONT, color: "#111", margin: 14,
        formatter: fmt },
      splitLine: { show: true, lineStyle: { color: "#ebebeb", width: 1.5 } },
      name: p.yName, nameLocation: "middle", nameGap: p.nameGap, nameRotate: 90,
      nameMoveOverlap: false,
      nameTextStyle: { fontSize: 25, fontFamily: FONT, color: "#000" },
    });

    p.lines.forEach(([key, color]) => {
      series.push({
        type: "line", xAxisIndex: 2 * i + 1, yAxisIndex: 2 * i + 1,
        data: toPoints(p.src[key]), showSymbol: false, symbol: "none", silent: true,
        connectNulls: false, clip: true,
        lineStyle: { color, width: 1.25 }, itemStyle: { color }, z: 2,
      });
    });
    series.push({
      type: "line", xAxisIndex: 2 * i + 1, yAxisIndex: 2 * i + 1,
      data: toPoints([[p.meanStart, p.mean]]), showSymbol: false, symbol: "none", silent: true,
      clip: true, lineStyle: { color: "#000", width: 2.6 }, itemStyle: { color: "#000" }, z: 5,
    });

    graphic.push({
      type: "text", x: p.titleX, y: p.titleY, scaleX: 0.81, scaleY: 1,
      style: { text: TITLES[i], fontSize: 23, fontFamily: FONT, fill: "#111",
        align: "center", verticalAlign: "middle" },
    });
  });

  return { animation: false, backgroundColor: "#ffffff", grid, xAxis, yAxis, series, graphic };
}

export default function App() {
  const ref = useRef<HTMLDivElement>(null);
  useEffect(() => {
    document.body.style.margin = "0";
    const chart = echarts.init(ref.current!, undefined, { renderer: "svg" });
    chart.setOption(buildOption() as any);
    return () => chart.dispose();
  }, []);
  return <div ref={ref} style={{ width: 913, height: 1249 }} />;
}
